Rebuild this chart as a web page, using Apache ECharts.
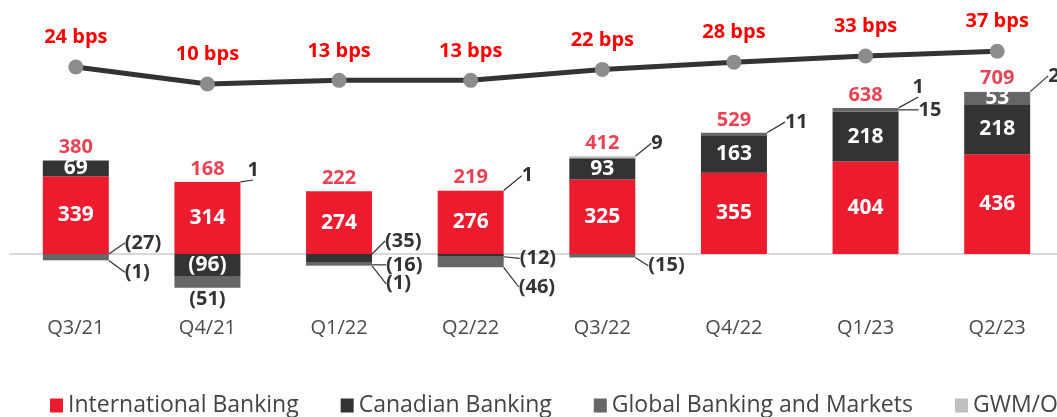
<!DOCTYPE html>
<html>
<head>
<meta charset="utf-8">
<script src="https://cdn.jsdelivr.net/npm/echarts@6/dist/echarts.min.js"></script>
<style>
  html, body { margin: 0; padding: 0; background: #fff; }
  #container { width: 1057px; height: 417px; }
</style>
</head>
<body>
<div id="container"></div>
<script>
var categories = ['Q3/21', 'Q4/21', 'Q1/22', 'Q2/22', 'Q3/22', 'Q4/22', 'Q1/23', 'Q2/23'];
var intl = [339, 314, 274, 276, 325, 355, 404, 436];
var canadian = [69, -96, -35, -12, 93, 163, 218, 218];
var gbm = [-27, -51, -16, -46, -15, 11, 15, 53];
var gwm = [-1, 1, -1, 1, 9, 0, 1, 2];
var totals = [380, 168, 222, 219, 412, 529, 638, 709];
var bps = [24, 10, 13, 13, 22, 28, 33, 37];

var font = '"Open Sans", sans-serif';

// offsets of the small callout labels (dx, dy from the right side of the segment)
var callouts = {
    'Canadian Banking': {2: [13, -17], 3: [16, 3]},
    'Global Banking and Markets': {0: [16, -14], 2: [14, 1], 3: [15, 25], 4: [13, 10], 5: [18, -12], 6: [20, 0]},
    'GWM/Other': {0: [16, 12], 1: [7, -12], 2: [14, 18], 3: [18, -15], 4: [16, -14], 6: [14, -21], 7: [18, -16]}
};
var below = {'Global Banking and Markets': [1]};

function fmt(v) {
    return v < 0 ? '(' + (-v) + ')' : String(v);
}

function barSeries(name, values, color) {
    var co = callouts[name] || {};
    var bl = below[name] || [];
    var data = values.map(function (v, i) {
        var item = {value: v};
        if (co[i]) {
            item.label = {show: true, position: 'right', distance: 0, color: '#333'};
            item.labelLine = {show: true};
        } else if (bl.indexOf(i) >= 0) {
            item.label = {show: true, position: 'bottom', distance: 2, color: '#333'};
        } else if (Math.abs(v) >= 50) {
            item.label = {show: true, position: 'inside', color: '#fff', fontSize: 21};
        }
        return item;
    });
    return {
        name: name,
        type: 'bar',
        stack: 'pcl',
        barWidth: 66,
        itemStyle: {color: color},
        label: {
            show: false,
            fontFamily: font,
            fontWeight: 'bold',
            fontSize: 20,
            formatter: function (p) { return fmt(p.value); }
        },
        labelLine: {show: false, lineStyle: {color: '#333', width: 1.2}},
        labelLayout: function (p) {
            var o = co[p.dataIndex];
            return o ? {dx: o[0], dy: o[1]} : {};
        },
        data: data
    };
}

var posTop = categories.map(function (c, i) {
    return [intl[i], canadian[i], gbm[i], gwm[i]].reduce(function (s, v) { return v > 0 ? s + v : s; }, 0);
});

var myChart = echarts.init(document.getElementById('container'));

var option = {
    animation: false,
    grid: {left: 10, right: -6, top: 20, bottom: 105, outerBoundsMode: 'none'},
    legend: {
        data: ['International Banking', 'Canadian Banking', 'Global Banking and Markets', 'GWM/Other'],
        left: 50,
        top: 394,
        width: 1400,
        icon: 'rect',
        itemWidth: 13,
        itemHeight: 14,
        itemGap: 42,
        padding: 0,
        textStyle: {fontFamily: font, fontSize: 23, color: '#444'}
    },
    xAxis: [
        {
            // baseline at zero with the ticks
            type: 'category',
            data: categories,
            axisLine: {onZero: true, lineStyle: {color: '#d9d9d9', width: 2}},
            axisTick: {length: 7, lineStyle: {color: '#d9d9d9', width: 2}},
            axisLabel: {show: false}
        },
        {
            // quarter labels at the bottom of the plot
            type: 'category',
            data: categories,
            position: 'bottom',
            axisLine: {show: false, onZero: false},
            axisTick: {show: false},
            axisLabel: {margin: 6, fontFamily: font, fontSize: 20, color: '#4a4a4a'}
        }
    ],
    yAxis: [
        {type: 'value', min: -253.3, max: 1021.8, show: false, splitLine: {show: false}},
        {type: 'value', min: -177.8, max: 62.7, show: false, splitLine: {show: false}}
    ],
    series: [
        barSeries('International Banking', intl, '#ec1c2e'),
        barSeries('Canadian Banking', canadian, '#333333'),
        barSeries('Global Banking and Markets', gbm, '#666666'),
        barSeries('GWM/Other', gwm, '#bfbfbf'),
        {
            name: 'total',
            type: 'scatter',
            symbolSize: 0,
            data: posTop,
            label: {
                show: true,
                position: 'top',
                distance: 3,
                color: '#e5132b',
                fontFamily: font,
                fontWeight: 'bold',
                fontSize: 20,
                formatter: function (p) { return totals[p.dataIndex]; }
            }
        },
        {
            name: 'bps',
            type: 'line',
            yAxisIndex: 1,
            z: 5,
            data: bps,
            symbol: 'circle',
            symbolSize: 15,
            itemStyle: {color: '#8c8c8c'},
            lineStyle: {color: '#333', width: 5},
            label: {
                show: true,
                position: 'top',
                distance: 12,
                color: '#ff0000',
                fontFamily: font,
                fontWeight: 'bold',
                fontSize: 20,
                formatter: '{c} bps'
            }
        }
    ]
};
myChart.setOption(option);
</script>
</body>
</html>
